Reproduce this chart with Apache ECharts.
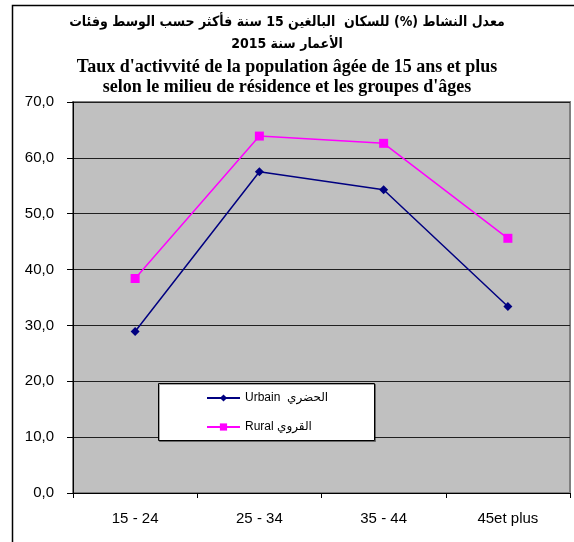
<!DOCTYPE html>
<html>
<head>
<meta charset="utf-8">
<script src="https://cdn.jsdelivr.net/npm/echarts@6/dist/echarts.min.js"></script>
<style>
html,body{margin:0;padding:0;background:#fff;}
#chart{width:574px;height:542px;}
</style>
</head>
<body>
<div id="chart"></div>
<script>
const categories = ['15 - 24', '25 - 34', '35 - 44', '45et plus'];
const urbainValues = [28.9, 57.5, 54.3, 33.4];
const ruralValues = [38.4, 63.9, 62.6, 45.6];
const urbainName = 'Urbain  الحضري';
const ruralName = 'Rural القروي';
const titleArabic1 = 'معدل النشاط (%) للسكان  البالغين 15 سنة فأكثر حسب الوسط وفئات';
const titleArabic2 = 'الأعمار سنة 2015';
const titleFrench1 = "Taux d'activvité de la population âgée de 15 ans et plus";
const titleFrench2 = "selon le milieu de résidence et les groupes d'âges";

const chart = echarts.init(document.getElementById('chart'), null, {renderer: 'canvas'});
const sans = 'Liberation Sans, Arial, DejaVu Sans, sans-serif';
const arab = 'DejaVu Sans Condensed, DejaVu Sans, sans-serif';
const serif = 'Liberation Serif, Times New Roman, serif';

chart.setOption({
  animation: false,
  backgroundColor: '#ffffff',
  graphic: [
    {type: 'rect', z: -10, shape: {x: 12.5, y: 5.5, width: 700, height: 700},
     style: {fill: '#ffffff', stroke: '#000', lineWidth: 1.5}},
    {type: 'text', left: 'center', top: 15, style: {text: titleArabic1, font: 'bold 14px ' + arab, fill: '#000'}},
    {type: 'text', left: 'center', top: 37, style: {text: titleArabic2, font: 'bold 14px ' + arab, fill: '#000'}},
    {type: 'text', left: 'center', top: 58, style: {text: titleFrench1, font: 'bold 18px ' + serif, fill: '#000'}},
    {type: 'text', left: 'center', top: 78, style: {text: titleFrench2, font: 'bold 18px ' + serif, fill: '#000'}},
    {type: 'rect', z: 50, shape: {x: 158.5, y: 383.5, width: 216, height: 57},
     style: {fill: '#ffffff', stroke: '#000', lineWidth: 1, shadowColor: 'rgba(0,0,0,0.35)', shadowOffsetX: 1, shadowOffsetY: 1, shadowBlur: 0}}
  ],
  legend: {
    z: 60,
    orient: 'vertical',
    left: 206,
    top: 392,
    itemWidth: 33,
    itemHeight: 9,
    itemGap: 17,
    padding: 0,
    textStyle: {fontFamily: sans, fontSize: 12, color: '#000'},
    data: [urbainName, ruralName]
  },
  grid: {
    left: 73, top: 102, right: 4, bottom: 49,
    show: true, backgroundColor: '#C0C0C0', borderColor: '#808080', borderWidth: 2
  },
  xAxis: {
    type: 'category',
    data: categories,
    boundaryGap: true,
    axisLine: {lineStyle: {color: '#000', width: 1}},
    axisTick: {show: true, length: 5, inside: false, lineStyle: {color: '#000'}},
    axisLabel: {margin: 18, fontFamily: sans, fontSize: 15, color: '#000'},
    splitLine: {show: false}
  },
  yAxis: {
    type: 'value',
    min: 0, max: 70, interval: 10,
    axisLine: {show: true, lineStyle: {color: '#000', width: 1}},
    axisTick: {show: true, length: 6, inside: false, lineStyle: {color: '#000'}},
    axisLabel: {margin: 19, fontFamily: sans, fontSize: 15, color: '#000',
      formatter: v => v.toFixed(1).replace('.', ',')},
    splitLine: {show: true, lineStyle: {color: '#202020', width: 1}}
  },
  series: [
    {name: urbainName, type: 'line', data: urbainValues,
     symbol: 'diamond', symbolSize: 9,
     lineStyle: {color: '#000080', width: 1.5},
     itemStyle: {color: '#000080'}},
    {name: ruralName, type: 'line', data: ruralValues,
     symbol: 'rect', symbolSize: 9,
     lineStyle: {color: '#FF00FF', width: 1.5},
     itemStyle: {color: '#FF00FF'}}
  ]
});
</script>
</body>
</html>
